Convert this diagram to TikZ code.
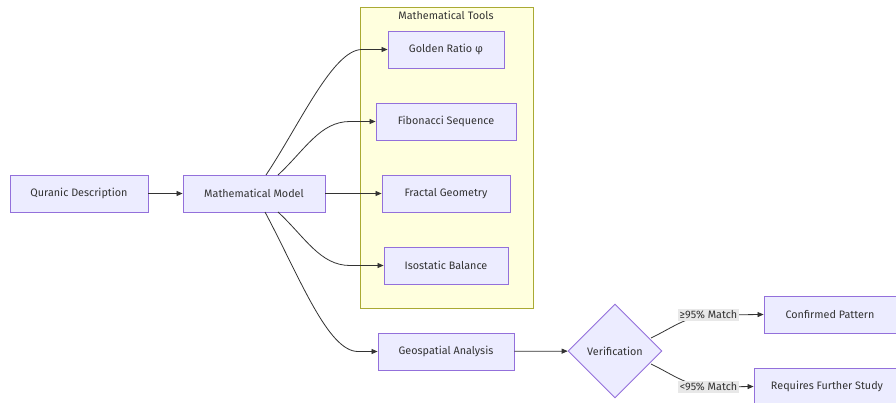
\documentclass[tikz,border=0pt]{standalone}
\usepackage{fontspec}
\setmainfont{Fira Sans}
\usetikzlibrary{shapes.geometric,arrows.meta}
\definecolor{nodefill}{HTML}{ECECFF}
\definecolor{nodeline}{HTML}{9370DB}
\definecolor{clfill}{HTML}{FFFFDE}
\definecolor{clline}{HTML}{AAAA33}
\definecolor{edgec}{HTML}{333333}
\definecolor{lblfill}{HTML}{E8E8E8}
\tikzset{
  box/.style={draw=nodeline,fill=nodefill,line width=0.9pt,minimum height=37pt,inner sep=0pt,text=edgec,font=\fontsize{10.8}{12}\selectfont},
  dia/.style={diamond,draw=nodeline,fill=nodefill,line width=0.9pt,minimum width=94pt,minimum height=94pt,inner sep=0pt,text=edgec,font=\fontsize{10.8}{12}\selectfont},
  edge/.style={draw=edgec,line width=0.8pt,-{Triangle[length=6pt,width=5pt]}},
  lbl/.style={fill=lblfill,inner sep=1.5pt,text=edgec,font=\fontsize{10.8}{12}\selectfont},
  cluster/.style={draw=clline,fill=clfill,line width=0.8pt},
}
\begin{document}
\begin{tikzpicture}[x=1pt,y=-1pt]
\useasboundingbox (0,0) rectangle (896,403);
\clip (0,0) rectangle (896,403);
\fill[white] (0,0) rectangle (896,403);
\draw[cluster] (360,7) rectangle (533,308);
\node[text=edgec,font=\fontsize{10.8}{12}\selectfont] (cltitle) at (446,15) {Mathematical Tools};
\node[box,minimum width=138pt] (qd) at (79,193.5) {Quranic Description};
\node[box,minimum width=142pt] (mm) at (254,193.5) {Mathematical Model};
\node[box,minimum width=116pt] (gr) at (446,49.5) {Golden Ratio φ};
\node[box,minimum width=140pt] (fs) at (446,121.5) {Fibonacci Sequence};
\node[box,minimum width=128pt] (fg) at (446,193.5) {Fractal Geometry};
\node[box,minimum width=124pt] (ib) at (446,265.5) {Isostatic Balance};
\node[box,minimum width=136pt] (ga) at (446,351.5) {Geospatial Analysis};
\node[dia] (ver) at (615,351) {Verification};
\node[box,minimum width=140pt,minimum height=37pt] (cp) at (834,314.5) {\hspace*{-8pt}Confirmed Pattern};
\node[box,minimum width=176pt,minimum height=37pt] (rs) at (842,386.5) {\hspace*{-30pt}Requires Further Study};
\coordinate (m1) at (266,175);
\coordinate (m2) at (278,175);
\coordinate (m3) at (278,212);
\coordinate (m4) at (265,212);
\coordinate (v1) at (651,338);
\coordinate (v2) at (651,364);
\draw[edge] (qd) -- (mm);
\draw[edge] (mm) -- (fg);
\draw[edge] (m1) .. controls (300,124) and (333,49.5) .. (362,49.5) -- (gr.west);
\draw[edge] (m2) .. controls (305,150) and (320,121.5) .. (350,121.5) -- (fs.west);
\draw[edge] (m3) .. controls (305,237) and (320,265.5) .. (350,265.5) -- (ib.west);
\draw[edge] (m4) .. controls (300,278) and (328,351.5) .. (358,351.5) -- (ga.west);
\draw[edge] (ga) -- (ver);
\draw[edge] (v1) .. controls (672,328) and (688,315) .. (712,315) -- (cp.west);
\draw[edge] (v2) .. controls (672,374) and (688,387) .. (712,387) -- (rs.west);
\node[lbl] (l1) at (708.5,315) {≥95\% Match};
\node[lbl] (l2) at (708.5,387) {<95\% Match};
\end{tikzpicture}
\end{document}
